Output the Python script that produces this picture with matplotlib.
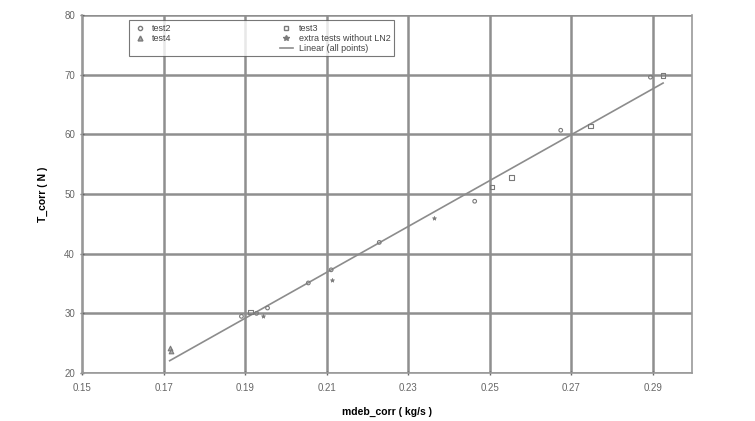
import matplotlib
matplotlib.use("Agg")
import matplotlib.pyplot as plt
from matplotlib.lines import Line2D
import numpy as np

plt.rcParams['font.family'] = ['Liberation Sans', 'DejaVu Sans']

# values
test2_x = [0.1891, 0.1928, 0.1955, 0.2055, 0.2111, 0.2229, 0.2463, 0.2674, 0.2894]
test2_y = [29.5, 30.0, 30.9, 35.1, 37.3, 41.9, 48.8, 60.7, 69.6]
test3_x = [0.1913, 0.2505, 0.2554, 0.2747, 0.2925]
test3_y = [30.2, 51.2, 52.8, 61.4, 69.9]
test4_x = [0.1715, 0.1718]
test4_y = [24.2, 23.7]
extra_x = [0.1945, 0.2114, 0.2363]
extra_y = [29.5, 35.6, 46.0]

x_ticks = [0.15, 0.17, 0.19, 0.21, 0.23, 0.25, 0.27, 0.29]
y_ticks = [20, 30, 40, 50, 60, 70, 80]

grey = '#7a7a7a'

fig = plt.figure(figsize=(7.55, 4.21), dpi=100)
ax = fig.add_axes([0.1086, 0.114, 0.808, 0.85])

ax.scatter(test2_x, test2_y, marker='o', s=7, facecolor='none', edgecolor=grey, linewidth=0.8, zorder=3)
ax.scatter(test3_x, test3_y, marker='s', s=11, facecolor='none', edgecolor=grey, linewidth=0.8, zorder=3)
ax.scatter(test4_x, test4_y, marker='^', s=11, facecolor='#aaaaaa', edgecolor=grey, linewidth=0.8, zorder=3)
ax.scatter(extra_x, extra_y, marker='*', s=9, color=grey, linewidth=0.5, zorder=3)

# linear fit through all points
all_x = np.array(test2_x + test3_x + test4_x + extra_x)
all_y = np.array(test2_y + test3_y + test4_y + extra_y)
k, b = np.polyfit(all_x, all_y, 1)
fx = np.array([all_x.min(), all_x.max()])
ax.plot(fx, k * fx + b, color='#8c8c8c', linewidth=1.2, zorder=2)

ax.set_xlim(0.15, 0.2996)
ax.set_ylim(20, 80)
ax.set_xticks(x_ticks)
ax.set_xticklabels([f'{t:.2f}' for t in x_ticks])
ax.set_yticks(y_ticks)
ax.grid(True, color='#8f8f8f', linewidth=1.8)
ax.set_axisbelow(True)
for s in ax.spines.values():
    s.set_color('#9a9a9a')
    s.set_linewidth(1.2)
ax.spines['top'].set_visible(False)
ax.tick_params(axis='both', labelsize=7, colors='#666666', length=3, width=1, direction='inout')
ax.tick_params(axis='x', pad=6)

ax.set_xlabel('mdeb_corr ( kg/s )', fontsize=7.5, fontweight='bold', labelpad=10)
ax.set_ylabel('T_corr ( N )', fontsize=7.5, fontweight='bold', labelpad=12)

handles = [
    Line2D([], [], marker='o', ls='none', ms=3, mfc='none', mec=grey),
    Line2D([], [], marker='^', ls='none', ms=3.5, mfc='#aaaaaa', mec=grey),
    Line2D([], [], ls='none'),
    Line2D([], [], marker='s', ls='none', ms=3.5, mfc='none', mec=grey),
    Line2D([], [], marker='*', ls='none', ms=4, color=grey),
    Line2D([], [], color='#8c8c8c', lw=1.2),
]
labels = ['test2', 'test4', '', 'test3', 'extra tests without LN2', 'Linear (all points)']
leg = ax.legend(handles, labels, ncol=2, loc='upper left', bbox_to_anchor=(0.07, 0.998),
                fontsize=6.5, frameon=True, fancybox=False, columnspacing=12,
                handlelength=1.5, handletextpad=0.6, labelspacing=0.1,
                borderpad=0.4)
leg.get_frame().set_edgecolor('#555555')
leg.get_frame().set_linewidth(0.8)
for t in leg.get_texts():
    t.set_color('#444444')

fig.savefig('out.png', dpi=100)
